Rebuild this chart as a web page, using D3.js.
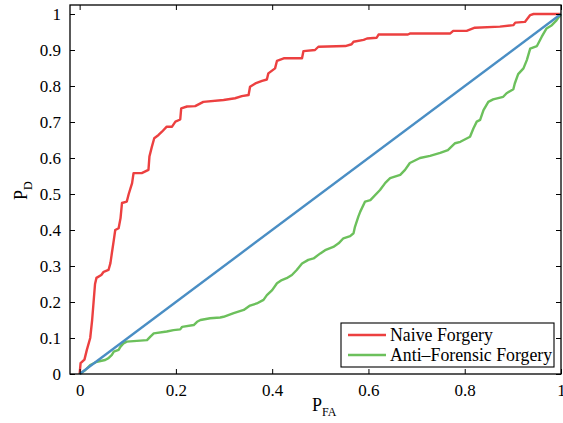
<!DOCTYPE html>
<html>
<head>
<meta charset="utf-8">
<script src="https://cdn.jsdelivr.net/npm/d3@7"></script>
<style>
  body { margin: 0; background: #fff; }
</style>
</head>
<body>
<div id="vis"></div>
<script>
// ROC curves, values
var naiveX = [0, 0.002, 0.01, 0.015, 0.022, 0.026, 0.029, 0.032, 0.035, 0.045, 0.05, 0.06, 0.064, 0.067, 0.071, 0.074,
  0.081, 0.085, 0.088, 0.098, 0.102, 0.109, 0.112, 0.129, 0.143, 0.145, 0.15, 0.155, 0.164, 0.171, 0.181, 0.192,
  0.199, 0.209, 0.211, 0.223, 0.24, 0.257, 0.299, 0.323, 0.337, 0.351, 0.354, 0.365, 0.379, 0.389, 0.392, 0.406,
  0.41, 0.424, 0.462, 0.465, 0.489, 0.496, 0.552, 0.565, 0.569, 0.59, 0.597, 0.617, 0.621, 0.682, 0.687, 0.77,
  0.776, 0.804, 0.821, 0.873, 0.901, 0.905, 0.925, 0.936, 0.943, 1];
var naiveY = [0, 0.03, 0.04, 0.067, 0.10, 0.15, 0.2, 0.25, 0.267, 0.275, 0.284, 0.289, 0.308, 0.336, 0.372, 0.40,
  0.405, 0.433, 0.475, 0.479, 0.50, 0.53, 0.558, 0.558, 0.567, 0.604, 0.631, 0.655, 0.664, 0.673, 0.687, 0.687,
  0.701, 0.707, 0.738, 0.743, 0.744, 0.756, 0.761, 0.766, 0.772, 0.775, 0.798, 0.807, 0.814, 0.818, 0.835, 0.849,
  0.87, 0.877, 0.877, 0.897, 0.9, 0.909, 0.911, 0.916, 0.923, 0.928, 0.932, 0.934, 0.943, 0.943, 0.946, 0.946,
  0.953, 0.953, 0.962, 0.965, 0.969, 0.976, 0.978, 0.997, 1, 1];

var antiX = [0, 0.012, 0.022, 0.036, 0.053, 0.06, 0.067, 0.071, 0.081, 0.085, 0.091, 0.098, 0.119, 0.14, 0.147,
  0.154, 0.181, 0.195, 0.209, 0.213, 0.237, 0.244, 0.251, 0.271, 0.292, 0.299, 0.32, 0.341, 0.354, 0.368, 0.382,
  0.389, 0.4, 0.41, 0.42, 0.43, 0.441, 0.451, 0.462, 0.475, 0.486, 0.5, 0.51, 0.527, 0.538, 0.548, 0.562, 0.569,
  0.572, 0.579, 0.583, 0.593, 0.604, 0.624, 0.635, 0.645, 0.666, 0.676, 0.686, 0.707, 0.728, 0.749, 0.765, 0.78,
  0.791, 0.811, 0.818, 0.825, 0.832, 0.839, 0.849, 0.859, 0.88, 0.887, 0.901, 0.904, 0.911, 0.922, 0.929, 0.936,
  0.95, 0.96, 0.97, 0.981, 0.991, 1];
var antiY = [0, 0.011, 0.025, 0.034, 0.039, 0.044, 0.053, 0.062, 0.067, 0.076, 0.085, 0.09, 0.092, 0.094, 0.104,
  0.113, 0.118, 0.122, 0.124, 0.131, 0.136, 0.145, 0.15, 0.155, 0.157, 0.159, 0.169, 0.178, 0.19, 0.196, 0.206,
  0.219, 0.233, 0.252, 0.261, 0.266, 0.275, 0.289, 0.307, 0.317, 0.321, 0.335, 0.344, 0.353, 0.363, 0.377, 0.383, 0.391,
  0.409, 0.437, 0.451, 0.479, 0.483, 0.511, 0.531, 0.544, 0.553, 0.567, 0.586, 0.6, 0.606, 0.614, 0.622, 0.641,
  0.645, 0.659, 0.682, 0.701, 0.706, 0.733, 0.756, 0.763, 0.77, 0.78, 0.791, 0.807, 0.833, 0.849, 0.872, 0.904,
  0.911, 0.937, 0.96, 0.969, 0.983, 1];

var chanceX = [0, 1];
var chanceY = [0, 1];

var xTicks = [0, 0.2, 0.4, 0.6, 0.8, 1];
var yTicks = [0, 0.1, 0.2, 0.3, 0.4, 0.5, 0.6, 0.7, 0.8, 0.9, 1];

var seriesNames = ['Naive Forgery', 'Anti\u2013Forensic Forgery'];
var red = 'rgb(236,64,64)';
var green = 'rgb(108,192,92)';
var blue = 'rgb(74,142,196)';

var serif = "'Liberation Serif', 'Times New Roman', Times, 'DejaVu Serif', serif";

var width = 563, height = 423;
var margin = { left: 70, right: 2, top: 5, bottom: 49 };

var svg = d3.select('#vis').append('svg')
  .attr('width', width)
  .attr('height', height)
  .attr('font-family', serif);

var x = d3.scaleLinear().domain([-0.02, 1]).range([margin.left, width - margin.right]);
var y = d3.scaleLinear().domain([0, 1.025]).range([height - margin.bottom, margin.top]);

function toPts(xs, ys) {
  return xs.map(function(d, i) { return [d, ys[i]]; });
}

var line = d3.line()
  .x(function(d) { return x(d[0]); })
  .y(function(d) { return y(d[1]); });

var plot = svg.append('g');

plot.append('path').datum(toPts(naiveX, naiveY))
  .attr('d', line).attr('fill', 'none').attr('stroke', red).attr('stroke-width', 2.4)
  .attr('stroke-linejoin', 'round');
plot.append('path').datum(toPts(antiX, antiY))
  .attr('d', line).attr('fill', 'none').attr('stroke', green).attr('stroke-width', 2.4)
  .attr('stroke-linejoin', 'round');
plot.append('path').datum(toPts(chanceX, chanceY))
  .attr('d', line).attr('fill', 'none').attr('stroke', blue).attr('stroke-width', 2.4);

// axes, ticks inward like matlab
var x0 = margin.left, x1 = width - margin.right, y0 = height - margin.bottom, y1 = margin.top;

function fmt(d) { return d === 0 || d === 1 ? d3.format('d')(d) : d3.format('.1f')(d); }

svg.append('g').attr('transform', 'translate(0,' + y0 + ')')
  .call(d3.axisBottom(x).tickValues(xTicks).tickSizeInner(-5).tickSizeOuter(0).tickPadding(10).tickFormat(fmt))
  .call(function(g) { g.select('.domain').remove(); });

svg.append('g').attr('transform', 'translate(0,' + y1 + ')')
  .call(d3.axisTop(x).tickValues(xTicks).tickSizeInner(-5).tickSizeOuter(0).tickFormat(''))
  .call(function(g) { g.select('.domain').remove(); });

svg.append('g').attr('transform', 'translate(' + x0 + ',0)')
  .call(d3.axisLeft(y).tickValues(yTicks).tickSizeInner(-5).tickSizeOuter(0).tickPadding(9).tickFormat(fmt))
  .call(function(g) { g.select('.domain').remove(); });

svg.append('g').attr('transform', 'translate(' + x1 + ',0)')
  .call(d3.axisRight(y).tickValues(yTicks).tickSizeInner(-5).tickSizeOuter(0).tickFormat(''))
  .call(function(g) { g.select('.domain').remove(); });

svg.selectAll('g').attr('font-family', serif);
svg.selectAll('.tick line').attr('stroke', '#000').attr('stroke-width', 1);
svg.selectAll('.tick text').attr('font-size', 17).attr('fill', '#000').attr('font-family', serif);

svg.append('rect')
  .attr('x', x0).attr('y', y1)
  .attr('width', x1 - x0).attr('height', y0 - y1)
  .attr('fill', 'none').attr('stroke', '#000').attr('stroke-width', 1.3);

// axis labels
var xl = svg.append('text').attr('x', 312).attr('y', 411).attr('font-size', 18).attr('font-family', serif);
xl.append('tspan').text('P');
xl.append('tspan').attr('font-size', 12).attr('dy', 5).text('FA');

var yl = svg.append('text').attr('transform', 'translate(27,200) rotate(-90)').attr('font-size', 18)
  .attr('font-family', serif);
yl.append('tspan').text('P');
yl.append('tspan').attr('font-size', 12).attr('dy', 5).text('D');

// legend
var lg = svg.append('g');
lg.append('rect').attr('x', 341).attr('y', 323).attr('width', 213).attr('height', 44)
  .attr('fill', '#fff').attr('stroke', '#000').attr('stroke-width', 1.1);
[red, green].forEach(function(c, i) {
  var yy = 335 + i * 20;
  lg.append('line').attr('x1', 348).attr('x2', 386).attr('y1', yy).attr('y2', yy)
    .attr('stroke', c).attr('stroke-width', 2.4);
  lg.append('text').attr('x', 390).attr('y', yy + 5.5).attr('font-size', 17.8)
    .attr('font-family', serif).text(seriesNames[i]);
});
</script>
</body>
</html>
